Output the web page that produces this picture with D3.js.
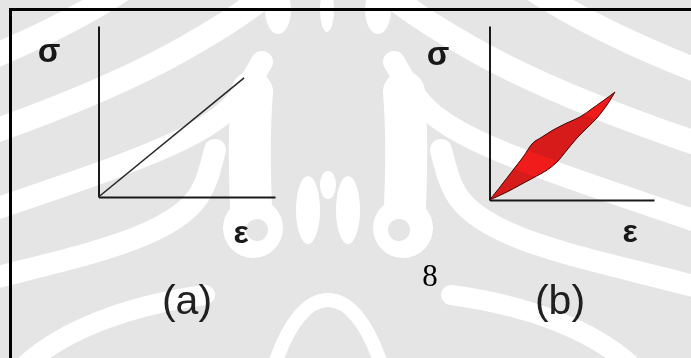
<!DOCTYPE html>
<html>
<head>
<meta charset="utf-8">
<script src="https://cdn.jsdelivr.net/npm/d3@7"></script>
<style>
  html, body { margin: 0; padding: 0; background: #ffffff; }
  svg { display: block; }
</style>
</head>
<body>
<svg id="chart" width="691" height="358"></svg>
<script>
// Panel (a): purely elastic material, stress rises linearly with strain
const elasticStrain = [0, 82.5];
const elasticStress = [0, 69.6];

// Panel (b): viscoelastic material, loading and unloading paths enclose a hysteresis loop
const loadingStrain   = [0, 6.4, 14.3, 20.4, 26.4, 31.9, 38.6, 47.1, 55.0, 62.9, 71.4, 76.3];
const loadingStress   = [0, 7.5, 17.2, 24.7, 32.8, 36.2, 40.2, 44.3, 47.7, 52.9, 58.6, 62.1];
const unloadingStrain = [76.3, 71.4, 65.3, 59.3, 53.2, 47.1, 41.0, 35.0, 26.4, 18.5, 10.6, 0];
const unloadingStress = [62.1, 54.6, 47.1, 41.4, 35.6, 28.7, 21.8, 17.2, 12.6, 8.6, 4.6, 0];

// Text
const stressLabel = "σ";
const strainLabel = "ε";
const panelLabels = ["(a)", "(b)"];
const pageNumber = "8";

const svg = d3.select("#chart");
const W = 691, H = 358;

svg.append("rect").attr("width", W).attr("height", H).attr("fill", "#ffffff");

// Page frame (top and left rules)
svg.append("line").attr("x1", 9).attr("x2", W).attr("y1", 9.5).attr("y2", 9.5)
  .attr("stroke", "#000").attr("stroke-width", 3);
svg.append("line").attr("x1", 10.5).attr("x2", 10.5).attr("y1", 8).attr("y2", H)
  .attr("stroke", "#000").attr("stroke-width", 3);

// Two small panels sharing the same layout
const panels = [
  { x0: 98.5, x1: 275, y0: 197, y1: 26, sigma: [49, 62], eps: [241, 243], label: [187, 314] },
  { x0: 489.5, x1: 654, y0: 200, y1: 26, sigma: [438, 65], eps: [630, 242], label: [560, 314] }
];

// origin at the corner of the axes, 100 at the end of each axis
const scales = panels.map(p => ({
  x: d3.scaleLinear().domain([0, 100]).range([p.x0, p.x1]),
  y: d3.scaleLinear().domain([0, 100]).range([p.y0, p.y1])
}));

const sans = "Liberation Sans, Arial, sans-serif";

panels.forEach((p, i) => {
  const s = scales[i];
  const g = svg.append("g");
  // axes drawn as bare domain lines, no ticks
  g.append("g").attr("transform", `translate(0,${p.y0})`)
    .call(d3.axisBottom(s.x).tickValues([]).tickSizeOuter(0))
    .call(a => a.select(".domain").attr("stroke", "#1a1a1a").attr("stroke-width", 2));
  g.append("g").attr("transform", `translate(${p.x0},0)`)
    .call(d3.axisLeft(s.y).tickValues([]).tickSizeOuter(0))
    .call(a => a.select(".domain").attr("stroke", "#1a1a1a").attr("stroke-width", 2));

  g.append("text").attr("x", p.sigma[0]).attr("y", p.sigma[1])
    .attr("text-anchor", "middle").attr("font-family", sans).attr("font-weight", "bold")
    .attr("font-size", 33).attr("fill", "#1a1a1a").text(stressLabel);
  g.append("text").attr("x", p.eps[0]).attr("y", p.eps[1])
    .attr("text-anchor", "middle").attr("font-family", sans).attr("font-weight", "bold")
    .attr("font-size", 32).attr("fill", "#1a1a1a").text(strainLabel);
  g.append("text").attr("x", p.label[0]).attr("y", p.label[1])
    .attr("text-anchor", "middle").attr("font-family", sans)
    .attr("font-size", 41).attr("fill", "#222").text(panelLabels[i]);
});

// (a) straight elastic line
{
  const s = scales[0];
  const pts = elasticStrain.map((e, k) => [s.x(e), s.y(elasticStress[k])]);
  svg.append("path").attr("d", d3.line()(pts))
    .attr("fill", "none").attr("stroke", "#2a2a2a").attr("stroke-width", 1.6);
}

// (b) hysteresis loop: loading curve out, unloading curve back
{
  const s = scales[1];
  const curve = d3.line().curve(d3.curveCatmullRom.alpha(0.5));
  const up = loadingStrain.map((e, k) => [s.x(e), s.y(loadingStress[k])]);
  const down = unloadingStrain.map((e, k) => [s.x(e), s.y(unloadingStress[k])]);
  const d = curve(up) + curve(down).replace(/^M/, "L") + "Z";
  svg.append("path").attr("d", d)
    .attr("fill", "#f01c1c").attr("stroke", "#4a0000").attr("stroke-width", 1)
    .attr("stroke-linejoin", "miter");
}

// Page number in the body font
svg.append("text").attr("x", 430).attr("y", 286).attr("text-anchor", "middle")
  .attr("font-family", "Liberation Serif, Times New Roman, serif")
  .attr("font-size", 31).attr("fill", "#000").text(pageNumber);

// Faint background emblem, multiplied over the page
const mark = svg.append("g").style("mix-blend-mode", "multiply").style("isolation", "isolate");
mark.append("rect").attr("width", W).attr("height", H).attr("fill", "#e5e5e5");
const axisX = 328;
const mirror = `translate(${2 * axisX},0) scale(-1,1)`;
const bands = [
  { d: "M-60,78 C0,55 70,25 125,-12", w: 24 },
  { d: "M-60,150 C30,120 120,85 185,48 S255,2 280,-15", w: 24 },
  { d: "M-60,228 C20,200 110,172 170,145 S240,100 262,62", w: 22 },
  { d: "M-60,292 C20,270 100,255 150,232 S205,190 215,150", w: 22 },
  { d: "M20,370 C60,330 130,305 205,295", w: 20 },
  { d: "M252,92 C248,140 250,190 252,228", w: 42 },
  { d: "M273,370 C288,322 308,300 328,300", w: 14 }
];
[null, mirror].forEach(tf => {
  const g = mark.append("g");
  if (tf) g.attr("transform", tf);
  bands.forEach(b => {
    g.append("path").attr("d", b.d).attr("fill", "none")
      .attr("stroke", "#ffffff").attr("stroke-width", b.w).attr("stroke-linecap", "round");
  });
  g.append("circle").attr("cx", 253).attr("cy", 228).attr("r", 30).attr("fill", "#ffffff");
  g.append("circle").attr("cx", 257).attr("cy", 230).attr("r", 11).attr("fill", "#e5e5e5");
  g.append("ellipse").attr("cx", 308).attr("cy", 210).attr("rx", 12).attr("ry", 34).attr("fill", "#ffffff");
  g.append("ellipse").attr("cx", 278).attr("cy", 10).attr("rx", 13).attr("ry", 24).attr("fill", "#ffffff");
});
mark.append("ellipse").attr("cx", axisX).attr("cy", 185).attr("rx", 8).attr("ry", 14).attr("fill", "#ffffff");
mark.append("ellipse").attr("cx", axisX - 1).attr("cy", 10).attr("rx", 7).attr("ry", 22).attr("fill", "#ffffff");
mark.append("rect").attr("x", axisX - 6).attr("y", 200).attr("width", 12).attr("height", 48).attr("fill", "#e5e5e5");
</script>
</body>
</html>
